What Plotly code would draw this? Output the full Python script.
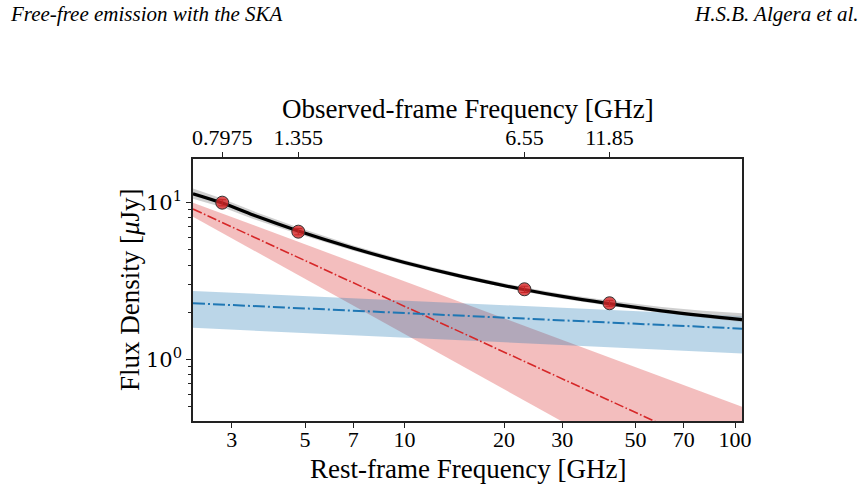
import plotly.graph_objects as go
import math

# ---- data ----
one_plus_z = 3.52
obs_freq = [0.7975, 1.355, 6.55, 11.85]              # GHz, observed frame
obs_labels = ["0.7975", "1.355", "6.55", "11.85"]
flux = [10.0, 6.53, 2.80, 2.28]                       # uJy
flux_err = [0.45, 0.30, 0.13, 0.10]

# total model (black)
tot_freq = [2.29, 2.825, 3.5, 4.77, 7, 10, 15, 22.95, 30, 41.5, 60, 80, 105]
tot_flux = [11.4, 9.9, 8.3, 6.6, 5.12, 4.15, 3.37, 2.79, 2.52, 2.27, 2.04, 1.90, 1.79]
tot_hi = [12.3, 10.55, 8.8, 6.95, 5.32, 4.29, 3.48, 2.88, 2.61, 2.37, 2.16, 2.04, 1.97]
tot_lo = [10.6, 9.3, 7.85, 6.3, 4.94, 4.02, 3.27, 2.71, 2.44, 2.20, 1.98, 1.84, 1.73]

# power-law components (endpoints at the axis limits)
comp_freq = [2.29, 105]
sync_flux = [9.1, 0.223]
sync_hi = [10.0, 0.498]
sync_lo = [8.14, 0.0925]
ff_flux = [2.28, 1.57]
ff_hi = [2.73, 1.89]
ff_lo = [1.59, 1.09]

x_ticks = [3, 5, 7, 10, 20, 30, 50, 70, 100]
y_ticks = [1, 10]
y_ticktext = ["10<sup>0</sup>", "10<sup>1</sup>"]
y_minor = [0.4, 0.5, 0.6, 0.7, 0.8, 0.9, 2, 3, 4, 5, 6, 7, 8, 9]
x_range = [2.29, 105]
y_range = [0.404, 19.0]

# ---- figure ----
rest_freq = [f * one_plus_z for f in obs_freq]

RED = "#d62728"
BLUE = "#1f77b4"
fig = go.Figure()


def band(xs, lo, hi, color):
    return go.Scatter(x=list(xs) + list(xs)[::-1], y=list(hi) + list(lo)[::-1],
                      fill="toself", fillcolor=color, line=dict(width=0),
                      mode="lines", hoverinfo="skip", showlegend=False)


fig.add_trace(band(comp_freq, sync_lo, sync_hi, "rgba(214,39,40,0.3)"))
fig.add_trace(band(comp_freq, ff_lo, ff_hi, "rgba(31,119,180,0.3)"))
fig.add_trace(band(tot_freq, tot_lo, tot_hi, "rgba(160,160,160,0.5)"))
fig.add_trace(go.Scatter(x=tot_freq, y=tot_flux, mode="lines",
                         line=dict(color="black", width=3.2, shape="spline"),
                         showlegend=False))
fig.add_trace(go.Scatter(x=comp_freq, y=sync_flux, mode="lines",
                         line=dict(color=RED, width=1.6, dash="9.6px,2.4px,1.6px,2.4px"),
                         showlegend=False))
fig.add_trace(go.Scatter(x=comp_freq, y=ff_flux, mode="lines",
                         line=dict(color=BLUE, width=2, dash="12px,3px,2px,3px"),
                         showlegend=False))
fig.add_trace(go.Scatter(x=rest_freq, y=flux, mode="markers",
                         marker=dict(size=13, color="rgba(214,39,40,0.8)",
                                     line=dict(color="#333333", width=1)),
                         error_y=dict(type="data", array=flux_err, color="#8b1a1a",
                                      thickness=1, width=4),
                         showlegend=False))
# invisible trace to carry the top axis
fig.add_trace(go.Scatter(x=rest_freq, y=flux, xaxis="x2", mode="markers",
                         marker=dict(opacity=0), hoverinfo="skip", showlegend=False))

lx = [math.log10(v) for v in x_range]
ly = [math.log10(v) for v in y_range]
AX = "#222222"
tickfont = dict(family="Liberation Serif", size=22, color="black")

fig.update_layout(
    width=868, height=489,
    margin=dict(l=193, r=126, t=159, b=68),
    paper_bgcolor="white", plot_bgcolor="white",
    showlegend=False,
    xaxis=dict(type="log", range=lx, tickvals=x_ticks, ticktext=[str(v) for v in x_ticks],
               ticks="outside", ticklen=5, tickwidth=1.2, tickcolor=AX,
               ticklabelstandoff=-7,
               showline=True, linecolor=AX, linewidth=1.5, mirror=False,
               showgrid=False, zeroline=False, tickfont=tickfont),
    xaxis2=dict(type="log", range=lx, overlaying="x", side="top", anchor="y",
                tickvals=rest_freq, ticktext=obs_labels,
                ticks="outside", ticklen=5, tickwidth=1.2, tickcolor=AX,
                ticklabelstandoff=-2,
                showline=True, linecolor=AX, linewidth=1.5,
                showgrid=False, zeroline=False, tickfont=tickfont),
    yaxis=dict(type="log", range=ly, tickvals=y_ticks, ticktext=y_ticktext,
               ticks="outside", ticklen=5, tickwidth=1.2, tickcolor=AX,
               minor=dict(tickvals=y_minor, ticks="outside", ticklen=3, tickwidth=1, tickcolor=AX),
               showline=True, linecolor=AX, linewidth=1.5, mirror=True,
               showgrid=False, zeroline=False,
               tickfont=dict(family="DejaVu Serif", size=21, color="black")),
)

W, H = 868 - 193 - 126, 489 - 159 - 68


def px(xp):
    return (xp - 193) / W


def py(yp):
    return (489 - 68 - yp) / H


title_font = dict(family="Liberation Serif", size=27, color="black")
fig.add_annotation(text="Rest-frame Frequency [GHz]", xref="paper", yref="paper",
                   x=0.5, y=py(469), xanchor="center", yanchor="middle",
                   showarrow=False, font=title_font)
fig.add_annotation(text="Observed-frame Frequency [GHz]", xref="paper", yref="paper",
                   x=0.5, y=py(109), xanchor="center", yanchor="middle",
                   showarrow=False, font=title_font)
fig.add_annotation(text="Flux Density [<i>μ</i>Jy]", xref="paper", yref="paper",
                   x=px(130), y=py(290), xanchor="center", yanchor="middle", textangle=-90,
                   showarrow=False, font=title_font)
head_font = dict(family="Liberation Serif", size=21, color="black")
fig.add_annotation(text="<i>Free-free emission with the SKA</i>", xref="paper", yref="paper",
                   x=px(8), y=py(14), xanchor="left", yanchor="middle",
                   showarrow=False, font=head_font)
fig.add_annotation(text="<i>H.S.B. Algera et al.</i>", xref="paper", yref="paper",
                   x=px(861), y=py(14), xanchor="right", yanchor="middle",
                   showarrow=False, font=head_font)

fig.write_html("out.html")
